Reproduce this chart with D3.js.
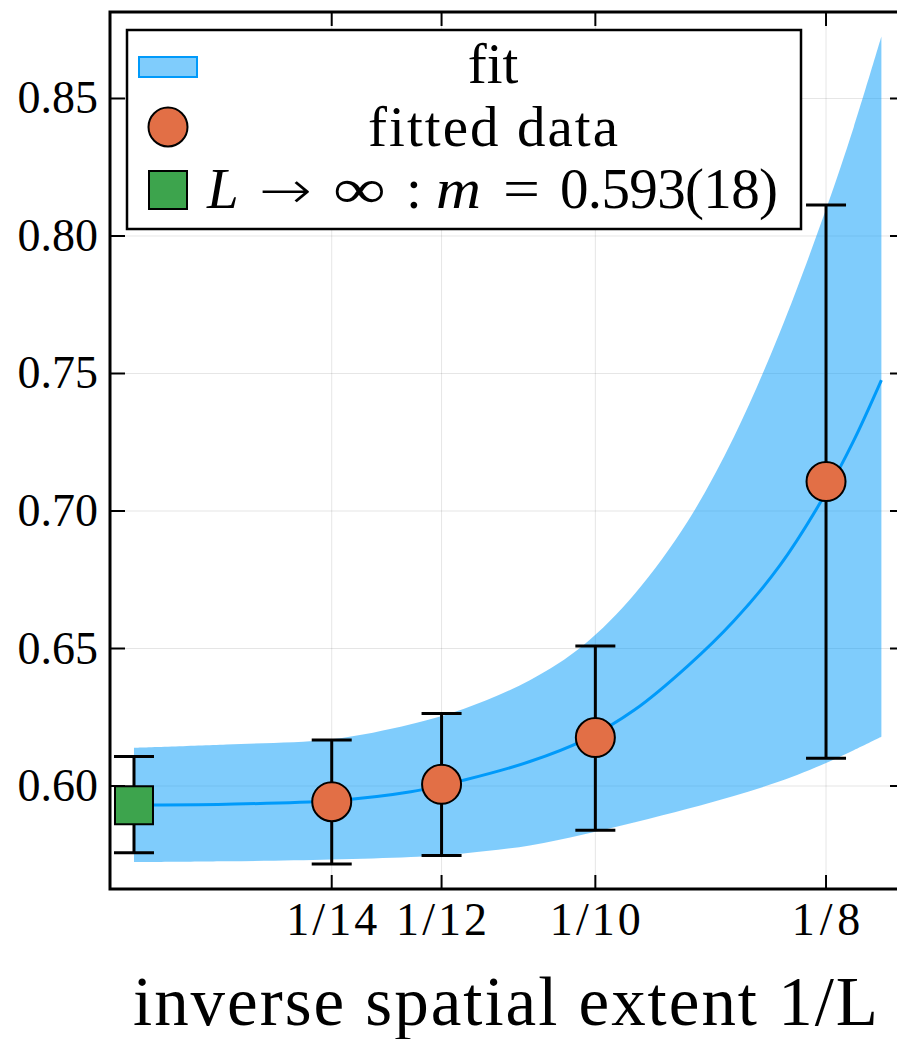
<!DOCTYPE html>
<html>
<head>
<meta charset="utf-8">
<script src="https://cdn.jsdelivr.net/npm/d3@7"></script>
<style>
  html, body { margin: 0; padding: 0; background: #fff; }
  svg { display: block; }
  text { font-family: "Liberation Serif", "DejaVu Serif", serif; fill: #000; }
</style>
</head>
<body>
<div id="chart"></div>
<script>
// ---- data ----
const xTickVals = [1/14, 1/12, 1/10, 1/8];
const xTickLabels = ["1/14", "1/12", "1/10", "1/8"];
const yTickVals = [0.60, 0.65, 0.70, 0.75, 0.80, 0.85];
const yTickLabels = ["0.60", "0.65", "0.70", "0.75", "0.80", "0.85"];

// fitted data points (x = 1/L)
const dataX  = [1/14, 1/12, 1/10, 1/8];
const dataY  = [0.5943, 0.6006, 0.6176, 0.7107];
const dataLo = [0.5716, 0.5747, 0.5839, 0.6101];
const dataHi = [0.6167, 0.6264, 0.6509, 0.8113];

// L -> infinity extrapolation (drawn at x = 1/20)
const infX  = [0.05];
const infY  = [0.593];
const infLo = [0.5757];
const infHi = [0.6107];

// fit curve and band
const fitX   = [0.05,   0.06,   0.0714, 0.08,   0.0857, 0.0929, 0.0987, 0.1043, 0.1100, 0.1150, 0.1200, 0.1250, 0.1280, 0.1310];
const fitMid = [0.5931, 0.5934, 0.5946, 0.5979, 0.6021, 0.6089, 0.6166, 0.6278, 0.6436, 0.6600, 0.6802, 0.7066, 0.7256, 0.7476];
const fitLo  = [0.5723, 0.5726, 0.5733, 0.5742, 0.5755, 0.5784, 0.5824, 0.5868, 0.5917, 0.5964, 0.6017, 0.6084, 0.6130, 0.6179];
const fitHi  = [0.6139, 0.6151, 0.6170, 0.6225, 0.6280, 0.6385, 0.6512, 0.6700, 0.6962, 0.7268, 0.7650, 0.8097, 0.8395, 0.8725];

const legendLabels = ["fit", "fitted data"];
const xLabel = "inverse spatial extent 1/L";

(function () {
// ---- layout ----
const W = 897, H = 1039;
const pL = 110, pR = 904, pT = 12, pB = 889;

const svg = d3.select("#chart").append("svg").attr("width", W).attr("height", H);

const x = d3.scaleLinear().domain([0.04740, 0.13345]).range([pL, pR]);
const y = d3.scaleLinear().domain([0.56255, 0.88145]).range([pB, pT]);

const blue = "#009AFA", orange = "#E26F46", green = "#3DA44D";

// grid
const grid = svg.append("g").attr("stroke", "#000").attr("stroke-opacity", 0.1).attr("stroke-width", 1);
xTickVals.forEach(v => grid.append("line").attr("x1", x(v)).attr("x2", x(v)).attr("y1", pT).attr("y2", pB));
yTickVals.forEach(v => grid.append("line").attr("x1", pL).attr("x2", pR).attr("y1", y(v)).attr("y2", y(v)));

// band + fit line
const fitPts = fitX.map((d, i) => ({x: d, m: fitMid[i], lo: fitLo[i], hi: fitHi[i]}));
const crv = d3.curveCatmullRom.alpha(0.5);
svg.append("path")
  .datum(fitPts)
  .attr("d", d3.area().x(d => x(d.x)).y0(d => y(d.lo)).y1(d => y(d.hi)).curve(crv))
  .attr("fill", blue).attr("fill-opacity", 0.5);
svg.append("path")
  .datum(fitPts)
  .attr("d", d3.line().x(d => x(d.x)).y(d => y(d.m)).curve(crv))
  .attr("fill", "none").attr("stroke", blue).attr("stroke-width", 3);

// error bars
function errBars(xs, los, his) {
  const g = svg.append("g").attr("stroke", "#000").attr("stroke-width", 3);
  xs.forEach((v, i) => {
    g.append("line").attr("x1", x(v)).attr("x2", x(v)).attr("y1", y(los[i])).attr("y2", y(his[i]));
    [los[i], his[i]].forEach(e => g.append("line")
      .attr("x1", x(v) - 20).attr("x2", x(v) + 20).attr("y1", y(e)).attr("y2", y(e)));
  });
}
errBars(infX, infLo, infHi);
errBars(dataX, dataLo, dataHi);

// markers
svg.append("g").selectAll("circle").data(dataX).join("circle")
  .attr("cx", d => x(d)).attr("cy", (d, i) => y(dataY[i])).attr("r", 19.5)
  .attr("fill", orange).attr("stroke", "#000").attr("stroke-width", 2);
svg.append("g").selectAll("rect").data(infX).join("rect")
  .attr("x", d => x(d) - 19).attr("y", (d, i) => y(infY[i]) - 19).attr("width", 38).attr("height", 38)
  .attr("fill", green).attr("stroke", "#000").attr("stroke-width", 2);

// frame
svg.append("rect").attr("x", pL).attr("y", pT).attr("width", pR - pL).attr("height", pB - pT)
  .attr("fill", "none").attr("stroke", "#000").attr("stroke-width", 3);

// ticks (inward, mirrored)
const tk = svg.append("g").attr("stroke", "#000").attr("stroke-width", 2);
xTickVals.forEach(v => {
  tk.append("line").attr("x1", x(v)).attr("x2", x(v)).attr("y1", pB).attr("y2", pB - 14);
  tk.append("line").attr("x1", x(v)).attr("x2", x(v)).attr("y1", pT).attr("y2", pT + 14);
});
yTickVals.forEach(v => {
  tk.append("line").attr("x1", pL).attr("x2", pL + 15).attr("y1", y(v)).attr("y2", y(v));
  tk.append("line").attr("x1", pR).attr("x2", pR - 14).attr("y1", y(v)).attr("y2", y(v));
});

// tick labels
svg.append("g").selectAll("text").data(xTickVals).join("text")
  .attr("x", d => x(d)).attr("y", 935).attr("text-anchor", "middle")
  .attr("font-size", 46).attr("textLength", (d, i) => xTickLabels[i].length * 22.5 + 1)
  .attr("lengthAdjust", "spacing")
  .text((d, i) => xTickLabels[i]);
svg.append("g").selectAll("text").data(yTickVals).join("text")
  .attr("x", 98).attr("y", d => y(d) + 15).attr("text-anchor", "end")
  .attr("font-size", 46)
  .text((d, i) => yTickLabels[i]);

// x axis label
svg.append("text").attr("x", 133).attr("y", 1025).attr("font-size", 69)
  .attr("textLength", 745).attr("lengthAdjust", "spacing").text(xLabel);

// legend
const lg = svg.append("g");
lg.append("rect").attr("x", 127).attr("y", 30).attr("width", 674).attr("height", 199)
  .attr("fill", "#fff").attr("stroke", "#000").attr("stroke-width", 2.5);
lg.append("rect").attr("x", 139).attr("y", 57).attr("width", 58).attr("height", 20)
  .attr("fill", blue).attr("fill-opacity", 0.5).attr("stroke", blue).attr("stroke-width", 2);
lg.append("circle").attr("cx", 168).attr("cy", 127).attr("r", 19.5)
  .attr("fill", orange).attr("stroke", "#000").attr("stroke-width", 2);
lg.append("rect").attr("x", 149).attr("y", 171).attr("width", 38).attr("height", 38)
  .attr("fill", green).attr("stroke", "#000").attr("stroke-width", 2);
lg.append("text").attr("x", 493).attr("y", 83).attr("text-anchor", "middle").attr("font-size", 57)
  .text(legendLabels[0]);
lg.append("text").attr("x", 493).attr("y", 146).attr("text-anchor", "middle").attr("font-size", 57)
  .attr("textLength", 250).attr("lengthAdjust", "spacing").text(legendLabels[1]);

// third entry: L -> inf : m = 0.593(18), pieces placed like the typeset formula
const fs = 57, base = 208;
lg.append("text").attr("x", 207).attr("y", base).attr("font-size", fs).attr("font-style", "italic").text("L");
lg.append("text").attr("x", 259).attr("y", base).attr("font-size", 52)
  .style("font-family", "'DejaVu Sans', sans-serif").style("font-weight", 300)
  .attr("textLength", 53).attr("lengthAdjust", "spacingAndGlyphs").text("\u2192");
lg.append("text").attr("x", 333).attr("y", base).attr("font-size", fs)
  .attr("textLength", 53).attr("lengthAdjust", "spacingAndGlyphs").text("\u221E");
lg.append("text").attr("x", 406).attr("y", base).attr("font-size", fs).text(":");
lg.append("text").attr("x", 436).attr("y", base).attr("font-size", fs).attr("font-style", "italic")
  .attr("textLength", 45).attr("lengthAdjust", "spacingAndGlyphs").text("m");
lg.append("text").attr("x", 503).attr("y", base).attr("font-size", fs)
  .attr("textLength", 37).attr("lengthAdjust", "spacingAndGlyphs").text("=");
lg.append("text").attr("x", 560).attr("y", base).attr("font-size", fs)
  .attr("textLength", 218).attr("lengthAdjust", "spacing").text("0.593(18)");
})();
</script>
</body>
</html>
